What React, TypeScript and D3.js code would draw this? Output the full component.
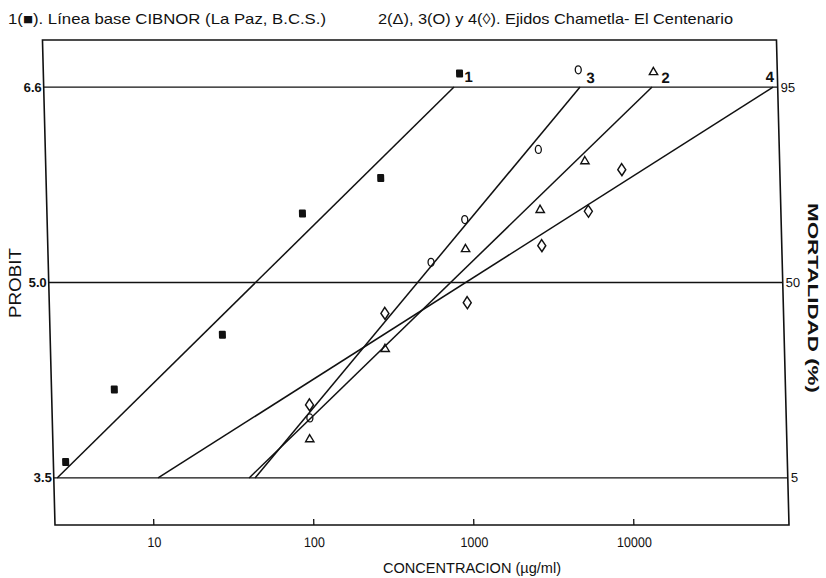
import * as d3 from "d3";
import { useEffect, useRef } from "react";

// x axis (concentration, µg/ml) decade ticks
const xTicks = [10, 100, 1000, 10000];

// probit gridlines (5% / 50% / 95%) and their printed labels
const probitTicks = [3.355, 5.0, 6.645];
const probitLabels = ["3.5", "5.0", "6.6"];
const mortalityLabels = ["5", "50", "95"];

// 1 (■) Línea base CIBNOR
const conc1 = [2.9, 6.0, 29, 96, 300, 970];
const probit1 = [3.49, 4.1, 4.56, 5.58, 5.88, 6.76];
// 2 (Δ)
const conc2 = [98, 300, 990, 2940, 5700, 15800];
const probit2 = [3.68, 4.44, 5.28, 5.61, 6.02, 6.77];
// 3 (O)
const conc3 = [99, 600, 990, 2930, 5360];
const probit3 = [3.86, 5.17, 5.53, 6.12, 6.79];
// 4 (◊)
const conc4 = [99, 303, 995, 2970, 5880, 9660];
const probit4 = [3.97, 4.74, 4.83, 5.31, 5.6, 5.95];

// fitted lines: concentration at probit 3.355 and 6.645
const fit1 = [2.55, 891];
const fit2 = [40.4, 15400];
const fit3 = [44.0, 5465];
const fit4 = [10.9, 87900];

const title1 = "1(■). Línea base CIBNOR (La Paz, B.C.S.)";
const title2 = "2(Δ), 3(O) y 4(◊).  Ejidos Chametla- El Centenario";

const App = () => {
  const svgRef = useRef<SVGSVGElement>(null);

  useEffect(() => {
    const width = 826;
    const height = 578;
    const margin = { top: 40, right: 37, bottom: 53, left: 55 };
    const font = "'Liberation Sans', Arial, sans-serif";
    const ink = "#111";

    const svg = d3.select(svgRef.current);
    svg.selectAll("*").remove();

    const x = d3
      .scaleLog()
      .domain([2.43, 93900])
      .range([margin.left, width - margin.right]);
    const y = d3
      .scaleLinear()
      .domain([2.959, 7.041])
      .range([height - margin.bottom, margin.top]);

    const y0 = height - margin.bottom;
    // the scanned page is slightly sheared
    const g = svg
      .append("g")
      .attr("transform", `translate(0,${y0}) skewX(1.48) translate(0,${-y0})`);

    // frame
    g.append("rect")
      .attr("x", margin.left)
      .attr("y", margin.top)
      .attr("width", width - margin.left - margin.right)
      .attr("height", height - margin.top - margin.bottom)
      .attr("fill", "none")
      .attr("stroke", ink)
      .attr("stroke-width", 1.6);

    // gridlines
    g.append("g")
      .selectAll("line")
      .data(probitTicks)
      .join("line")
      .attr("x1", margin.left)
      .attr("x2", width - margin.right)
      .attr("y1", (d) => y(d))
      .attr("y2", (d) => y(d))
      .attr("stroke", ink)
      .attr("stroke-width", 1.3);

    // bottom axis
    const xAxis = g
      .append("g")
      .attr("transform", `translate(0,${y0})`)
      .call(
        d3
          .axisBottom(x)
          .tickValues(xTicks)
          .tickFormat((d) => String(d))
          .tickSizeInner(-6)
          .tickSizeOuter(0)
          .tickPadding(12)
      );
    xAxis.select(".domain").remove();
    xAxis.selectAll(".tick line").attr("stroke", ink).attr("stroke-width", 1.3);
    xAxis
      .selectAll("text")
      .attr("font-family", font)
      .attr("font-size", 14)
      .attr("fill", ink)
      .attr("lengthAdjust", "spacingAndGlyphs")
      .attr("textLength", (d: any) => String(d).length * 7);

    // left labels
    g.append("g")
      .selectAll("text")
      .data(probitTicks)
      .join("text")
      .attr("x", margin.left - 2)
      .attr("y", (d) => y(d))
      .attr("dy", "0.35em")
      .attr("text-anchor", "end")
      .attr("font-family", font)
      .attr("font-weight", "bold")
      .attr("font-size", 13)
      .attr("fill", ink)
      .text((d, i) => probitLabels[i]);

    // right labels
    g.append("g")
      .selectAll("text")
      .data(probitTicks)
      .join("text")
      .attr("x", width - margin.right + 3)
      .attr("y", (d) => y(d))
      .attr("dy", "0.35em")
      .attr("font-family", font)
      .attr("font-size", 13)
      .attr("fill", ink)
      .text((d, i) => mortalityLabels[i]);

    // fitted lines
    const line = d3
      .line<[number, number]>()
      .x((d) => x(d[0]))
      .y((d) => y(d[1]));
    const pLo = probitTicks[0];
    const pHi = probitTicks[2];
    [fit1, fit2, fit3, fit4].forEach((f) => {
      g.append("path")
        .attr("d", line([[f[0], pLo], [f[1], pHi]]))
        .attr("fill", "none")
        .attr("stroke", ink)
        .attr("stroke-width", 1.5);
    });

    const pts = (c: number[], p: number[]) => c.map((v, i) => [v, p[i]] as [number, number]);

    // squares
    g.append("g")
      .selectAll("rect")
      .data(pts(conc1, probit1))
      .join("rect")
      .attr("x", (d) => x(d[0]) - 3.5)
      .attr("y", (d) => y(d[1]) - 4)
      .attr("width", 7)
      .attr("height", 8)
      .attr("rx", 1)
      .attr("fill", ink);

    // triangles
    g.append("g")
      .selectAll("path")
      .data(pts(conc2, probit2))
      .join("path")
      .attr("transform", (d) => `translate(${x(d[0])},${y(d[1])})`)
      .attr("d", d3.symbol(d3.symbolTriangle, 30)())
      .attr("fill", "none")
      .attr("stroke", ink)
      .attr("stroke-width", 1.4);

    // circles
    g.append("g")
      .selectAll("ellipse")
      .data(pts(conc3, probit3))
      .join("ellipse")
      .attr("cx", (d) => x(d[0]))
      .attr("cy", (d) => y(d[1]))
      .attr("rx", 3)
      .attr("ry", 4)
      .attr("fill", "none")
      .attr("stroke", ink)
      .attr("stroke-width", 1.3);

    // diamonds
    g.append("g")
      .selectAll("path")
      .data(pts(conc4, probit4))
      .join("path")
      .attr("transform", (d) => `translate(${x(d[0])},${y(d[1])}) scale(1.15,1)`)
      .attr("d", d3.symbol(d3.symbolDiamond, 42)())
      .attr("fill", "none")
      .attr("stroke", ink)
      .attr("stroke-width", 1.3);

    // series numbers
    const numLabel = (cx: number, cy: number, t: string) =>
      g.append("text")
        .attr("x", cx)
        .attr("y", cy)
        .attr("dy", "0.35em")
        .attr("text-anchor", "middle")
        .attr("font-family", font)
        .attr("font-weight", "bold")
        .attr("font-size", 15)
        .attr("fill", ink)
        .text(t);
    numLabel(x(conc1[conc1.length - 1]) + 9, y(probit1[probit1.length - 1]) + 3, "1");
    numLabel(x(conc3[conc3.length - 1]) + 12, y(probit3[probit3.length - 1]) + 8, "3");
    numLabel(x(conc2[conc2.length - 1]) + 12, y(probit2[probit2.length - 1]) + 6, "2");
    numLabel(x(fit4[1]) - 3, y(pHi) - 10, "4");

    // titles (narrow lettering)
    const narrowText = (
      sel: d3.Selection<SVGTextElement, unknown, null, undefined>,
      len: number
    ) => sel.attr("lengthAdjust", "spacingAndGlyphs").attr("textLength", len);

    narrowText(
      svg.append("text")
        .attr("x", 8)
        .attr("y", 24)
        .attr("font-family", font)
        .attr("font-size", 15)
        .attr("fill", ink)
        .text(title1),
      318
    );
    narrowText(
      svg.append("text")
        .attr("x", 378)
        .attr("y", 24)
        .attr("font-family", font)
        .attr("font-size", 15)
        .attr("fill", ink)
        .text(title2),
      355
    );

    // axis titles
    narrowText(
      svg.append("text")
        .attr("transform", `translate(21,283) rotate(-90)`)
        .attr("text-anchor", "middle")
        .attr("font-family", font)
        .attr("font-size", 16)
        .attr("fill", ink)
        .text("PROBIT"),
      70
    );
    narrowText(
      svg.append("text")
        .attr("transform", `translate(808,298) rotate(90)`)
        .attr("text-anchor", "middle")
        .attr("font-family", font)
        .attr("font-weight", "bold")
        .attr("font-size", 15)
        .attr("fill", ink)
        .text("MORTALIDAD (%)"),
      190
    );
    narrowText(
      svg.append("text")
        .attr("x", 472)
        .attr("y", 573)
        .attr("text-anchor", "middle")
        .attr("font-family", font)
        .attr("font-size", 15)
        .attr("fill", ink)
        .text("CONCENTRACION (µg/ml)"),
      178
    );
  }, []);

  return (
    <svg
      ref={svgRef}
      width={826}
      height={578}
      style={{ position: "absolute", left: 0, top: 0, background: "#fff" }}
    ></svg>
  );
};

export default App;
